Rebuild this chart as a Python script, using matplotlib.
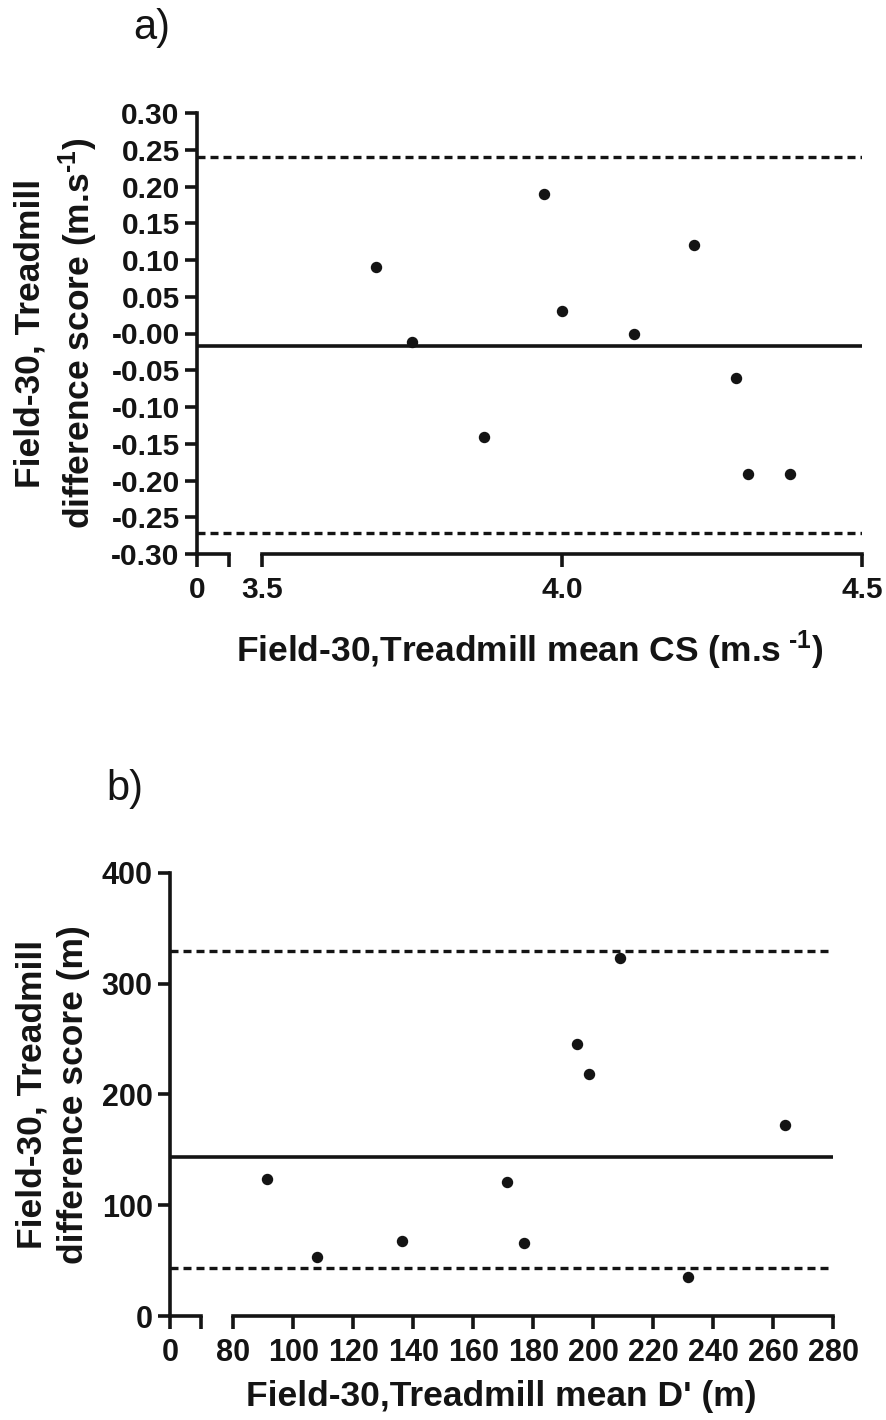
import numpy as np
import matplotlib.pyplot as plt

plt.rcParams['font.family'] = ['Liberation Sans', 'DejaVu Sans']
plt.rcParams['font.weight'] = 'bold'
plt.rcParams['axes.labelweight'] = 'bold'
plt.rcParams['mathtext.fontset'] = 'custom'
plt.rcParams['mathtext.rm'] = 'Liberation Sans:bold'
plt.rcParams['mathtext.it'] = 'Liberation Sans:bold'
plt.rcParams['mathtext.bf'] = 'Liberation Sans:bold'
plt.rcParams['mathtext.default'] = 'rm'

# Panel a) - CS (m.s-1)
cs_mean = [3.69, 3.75, 3.87, 3.97, 4.00, 4.12, 4.22, 4.29, 4.31, 4.38]
cs_diff = [0.090, -0.011, -0.141, 0.190, 0.030, 0.000, 0.120, -0.061, -0.191, -0.191]
cs_bias = -0.017
cs_loa = [-0.272, 0.240]
cs_yticks = [-0.30, -0.25, -0.20, -0.15, -0.10, -0.05, 0.00, 0.05, 0.10, 0.15, 0.20, 0.25, 0.30]
cs_ylabels = ['-0.30', '-0.25', '-0.20', '-0.15', '-0.10', '-0.05', '-0.00',
              '0.05', '0.10', '0.15', '0.20', '0.25', '0.30']
cs_xticks = [0, 3.5, 4.0, 4.5]
cs_xlabels = ['0', '3.5', '4.0', '4.5']

# Panel b) - D' (m)
d_mean = [91.3, 107.8, 136.2, 171.3, 176.8, 194.6, 198.7, 208.9, 231.5, 263.9]
d_diff = [123.4, 53.5, 67.7, 121.2, 65.6, 245.2, 218.1, 322.8, 34.9, 172.6]
d_bias = 143.2
d_loa = [43.6, 329.7]
d_yticks = [0, 100, 200, 300, 400]
d_xticks = [0, 80, 100, 120, 140, 160, 180, 200, 220, 240, 260, 280]

LW = 2.6
INK = '#141414'


def broken_scale(data_pts, screen_pts):
    # piecewise linear x scale: short stub at 0, gap, then the real range
    fwd = lambda x: np.interp(x, data_pts, screen_pts)
    inv = lambda y: np.interp(y, screen_pts, data_pts)
    return fwd, inv


def bland_altman(ax, x, y, bias, loa, xlim, ylim, stub, main_start, scale_pts, tick_fs):
    ax.set_xscale('function', functions=broken_scale(scale_pts[0], scale_pts[1]))
    ax.plot(x, y, 'o', color=INK, ms=7.2, zorder=3, clip_on=False)
    ax.axhline(bias, color=INK, lw=2.6)
    for v in loa:
        ax.axhline(v, color=INK, lw=2.4, ls=(0, (2.4, 1.5)))
    ax.set_xlim(xlim)
    ax.set_ylim(ylim)
    for s in ['top', 'right', 'bottom']:
        ax.spines[s].set_visible(False)
    ax.spines['left'].set_linewidth(LW)
    ax.spines['left'].set_color(INK)
    # bottom axis drawn in two pieces
    tr = ax.get_xaxis_transform()
    ax.plot([xlim[0], stub], [0, 0], color=INK, lw=LW, transform=tr, clip_on=False)
    ax.plot([main_start, xlim[1]], [0, 0], color=INK, lw=LW, transform=tr, clip_on=False)
    ax.tick_params(width=LW, length=9, labelsize=tick_fs, color=INK, labelcolor=INK)
    ax.tick_params(axis='y', pad=3.5)
    ax.tick_params(axis='x', pad=6.5)


fig = plt.figure(figsize=(8.87, 14.2), dpi=100)

# ---- a) ----
ax1 = fig.add_axes([197 / 887, (1420 - 554) / 1420, 665.3 / 887, 441 / 1420])
bland_altman(ax1, cs_mean, cs_diff, cs_bias, cs_loa, (0, 4.5), (-0.30, 0.30),
             0.1, 3.5, ([0, 0.1, 3.5, 4.5], [0, 32, 65.5, 665.3]), 21.5)
ax1.set_yticks(cs_yticks)
ax1.set_yticklabels(cs_ylabels)
ax1.set_xticks(cs_xticks + [0.1])
ax1.set_xticklabels(cs_xlabels + [''])
ax1.set_ylabel('Field-30, Treadmill\ndifference score (m.s$^{\\text{-1}}$)', fontsize=25.5,
               fontweight='bold', linespacing=1.3, color=INK)
ax1.yaxis.set_label_coords(-0.146, 0.5)
ax1.set_xlabel('Field-30,Treadmill mean CS (m.s$^{\\ \\text{-1}}$)', fontsize=25.5,
               fontweight='bold', va='top', color=INK)
ax1.xaxis.set_label_coords(0.5, -0.168)

# ---- b) ----
ax2 = fig.add_axes([170 / 887, (1420 - 1316) / 1420, 663.3 / 887, 443.3 / 1420])
bland_altman(ax2, d_mean, d_diff, d_bias, d_loa, (0, 280), (0, 400),
             10, 80, ([0, 10, 80, 280], [0, 30.7, 63.3, 663.3]), 22)
ax2.set_yticks(d_yticks)
ax2.set_xticks(d_xticks + [10])
ax2.set_xticklabels([str(t) for t in d_xticks] + [''])
ax2.set_ylabel('Field-30, Treadmill\ndifference score (m)', fontsize=25.5,
               fontweight='bold', linespacing=1.3, color=INK)
ax2.yaxis.set_label_coords(-0.121, 0.5)
ax2.set_xlabel("Field-30,Treadmill mean D' (m)", fontsize=25.5, fontweight='bold',
               va='top', color=INK)
ax2.xaxis.set_label_coords(0.5, -0.145)

fig.text(133 / 887, 1 - 39 / 1420, 'a)', fontsize=30, fontweight='normal', va='baseline', color=INK)
fig.text(106 / 887, 1 - 800 / 1420, 'b)', fontsize=30, fontweight='normal', va='baseline', color=INK)

fig.savefig('out.png', dpi=100)
